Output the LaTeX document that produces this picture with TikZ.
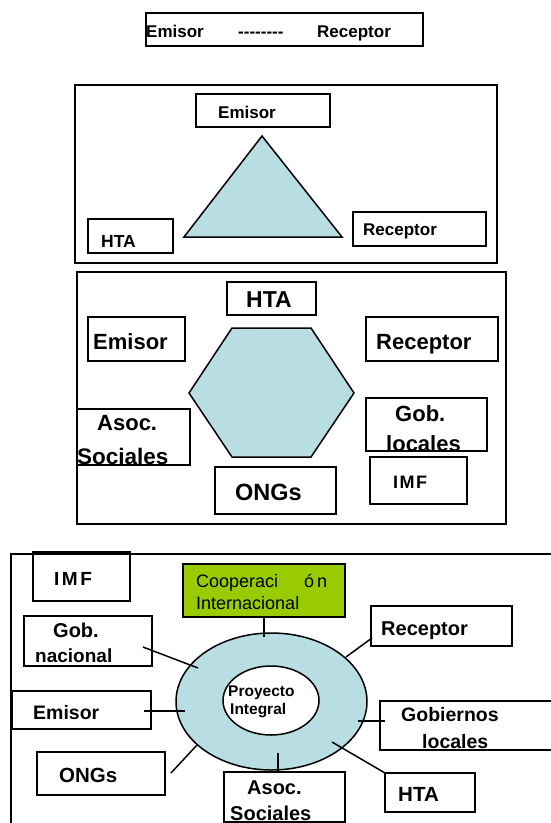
\documentclass[tikz,border=0pt]{standalone}
\usepackage{fontspec}
\setmainfont{Liberation Sans}[Ligatures=TeXOff]
\usetikzlibrary{shapes.geometric}
\definecolor{ringblue}{RGB}{184,222,228}
\definecolor{coopgreen}{RGB}{153,204,0}
\begin{document}
\begin{tikzpicture}[x=1pt,y=-1pt,
  box/.style={draw, line width=1.8pt, inner sep=0pt, outer sep=0pt},
  lbl/.style={anchor=base west, inner sep=0pt, font=\bfseries\fontsize{#1}{#1}\selectfont},
  reg/.style={anchor=base west, inner sep=0pt, font=\fontsize{#1}{#1}\selectfont},
  conn/.style={line width=1.5pt},
  shapefill/.style={fill=ringblue, draw, line width=1.5pt, line join=miter}]
\useasboundingbox (0,0) rectangle (550,823);
\fill[white] (0,0) rectangle (550,823);

% ---------- section 1 ----------
\node[box, minimum width=277pt, minimum height=33pt] (top) at (284.5,29.5) {};
\node[lbl=17] (t1) at (146,37) {Emisor};
\node[lbl=17] (t2) at (238,37) {--------};
\node[lbl=17] (t3) at (317,37) {Receptor};

% ---------- section 2 ----------
\node[box, minimum width=422pt, minimum height=178pt] (frameB) at (286,174) {};
\coordinate (tA) at (262,136);
\coordinate (tB) at (184,237);
\coordinate (tC) at (342,237);
\draw[shapefill] (tA) -- (tB) -- (tC) -- cycle;
\node[box, minimum width=134pt, minimum height=33pt] (emis2) at (263,110.5) {};
\node[lbl=17] at (218,118) {Emisor};
\node[box, minimum width=85pt, minimum height=34pt] (hta2) at (130.5,236) {};
\node[lbl=17.5] at (101,247) {HTA};
\node[box, minimum width=133pt, minimum height=34pt] (rec2) at (419.5,229) {};
\node[lbl=17] at (363,235) {Receptor};

% ---------- section 3 ----------
\node[box, minimum width=429pt, minimum height=252pt] (frameC) at (291.5,398) {};
\coordinate (h1) at (189,393);
\coordinate (h2) at (232,328);
\coordinate (h3) at (311,328);
\coordinate (h4) at (354,393);
\coordinate (h5) at (311,457);
\coordinate (h6) at (232,457);
\draw[shapefill] (h1) -- (h2) -- (h3) -- (h4) -- (h5) -- (h6) -- cycle;
\node[box, minimum width=89pt, minimum height=33pt] (hta3) at (271.5,298.5) {};
\node[lbl=23] at (246,307.5) {HTA};
\node[box, minimum width=97pt, minimum height=44pt] (emis3) at (136.5,339) {};
\node[lbl=22] at (93,349) {Emisor};
\node[box, minimum width=132pt, minimum height=44pt] (rec3) at (432,339) {};
\node[lbl=22] at (376,349) {Receptor};
\node[box, minimum width=113pt, minimum height=56pt] (asoc3) at (133.5,437) {};
\node[lbl=22] at (97,430) {Asoc.};
\node[lbl=22.5] at (77,464) {Sociales};
\node[box, minimum width=121pt, minimum height=53pt] (gobl3) at (426.5,424.5) {};
\node[lbl=22] at (395,421) {Gob.};
\node[lbl=22] at (386,451.5) {locales};
\node[box, line width=1.3pt, minimum width=97pt, minimum height=47pt] (imf3) at (418.5,480.5) {};
\node[lbl=18] at (393,488) {I\kern1.5pt M\kern1.5pt F};
\node[box, minimum width=121pt, minimum height=47pt] (ongs3) at (275.5,490.5) {};
\node[lbl=23.5] at (235,500) {ONGs};

% ---------- section 4 ----------
\coordinate (fr1) at (552,554);
\coordinate (fr2) at (11,554);
\coordinate (fr3) at (11,826);
\draw[line width=1.8pt] (fr1) -- (fr2) -- (fr3);

\node[ellipse, shapefill, minimum width=191pt, minimum height=137pt, inner sep=0pt] (ring) at (271.5,701.5) {};
\node[ellipse, draw, fill=white, line width=1.5pt, minimum width=96pt, minimum height=69pt, inner sep=0pt] (core) at (271,700.5) {};
\node[lbl=15.5] at (228,696) {Proyecto};
\node[lbl=15.5] at (230,714) {Integral};

\node[box, minimum width=97pt, minimum height=49pt] (imf4) at (81.5,576.5) {};
\node[lbl=19] at (54,585) {I\kern2.5pt M\kern2.5pt F};
\node[box, fill=coopgreen, minimum width=162pt, minimum height=53pt] (coop) at (264,590.5) {};
\node[reg=18] at (196,587) {Cooperaci\hspace{26pt}ó\hspace{3pt}n};
\node[reg=18] at (196,609) {Internacional};
\node[box, minimum width=128pt, minimum height=50pt] (gobn) at (88,641) {};
\node[lbl=20] at (53,637.5) {Gob.};
\node[lbl=19] at (35,662.5) {nacional};
\node[box, minimum width=141pt, minimum height=40pt] (rec4) at (441.5,626) {};
\node[lbl=20] at (381,635) {Receptor};
\node[box, minimum width=139pt, minimum height=38pt] (emis4) at (81.5,710) {};
\node[lbl=19.5] at (33,719) {Emisor};
\node[box, minimum width=175pt, minimum height=49pt] (gobl4) at (467.5,725.5) {};
\node[lbl=19.5] at (401,721) {Gobiernos};
\node[lbl=19.5] at (422,748) {locales};
\node[box, minimum width=128pt, minimum height=43pt] (ongs4) at (101,773.5) {};
\node[lbl=20.5] at (59,782) {ONGs};
\node[box, minimum width=121pt, minimum height=50pt] (asoc4) at (284.5,797) {};
\node[lbl=20] at (247,794) {Asoc.};
\node[lbl=20] at (230,820) {Sociales};
\node[box, minimum width=90pt, minimum height=39pt] (hta4) at (430,792.5) {};
\node[lbl=20.5] at (398,801.5) {HTA};

% connectors
\coordinate (k1) at (264,637);
\coordinate (g1) at (143,647);
\coordinate (g2) at (198,668);
\coordinate (e1) at (144,711);
\coordinate (e2) at (185,711);
\coordinate (o1) at (171,773);
\coordinate (o2) at (197,745);
\coordinate (a1) at (278,753);
\coordinate (x1) at (332,742);
\coordinate (l1) at (358,721);
\coordinate (l2) at (385,721);
\coordinate (r1) at (346,657);
\coordinate (r2) at (372,638);
\draw[conn] (coop.south) -- (k1);
\draw[conn] (g1) -- (g2);
\draw[conn] (e1) -- (e2);
\draw[conn] (o1) -- (o2);
\draw[conn] (a1) -- (a1 |- asoc4.north);
\draw[conn] (x1) -- (hta4.north west);
\draw[conn] (l1) -- (l2);
\draw[conn] (r1) -- (r2);
\end{tikzpicture}
\end{document}
